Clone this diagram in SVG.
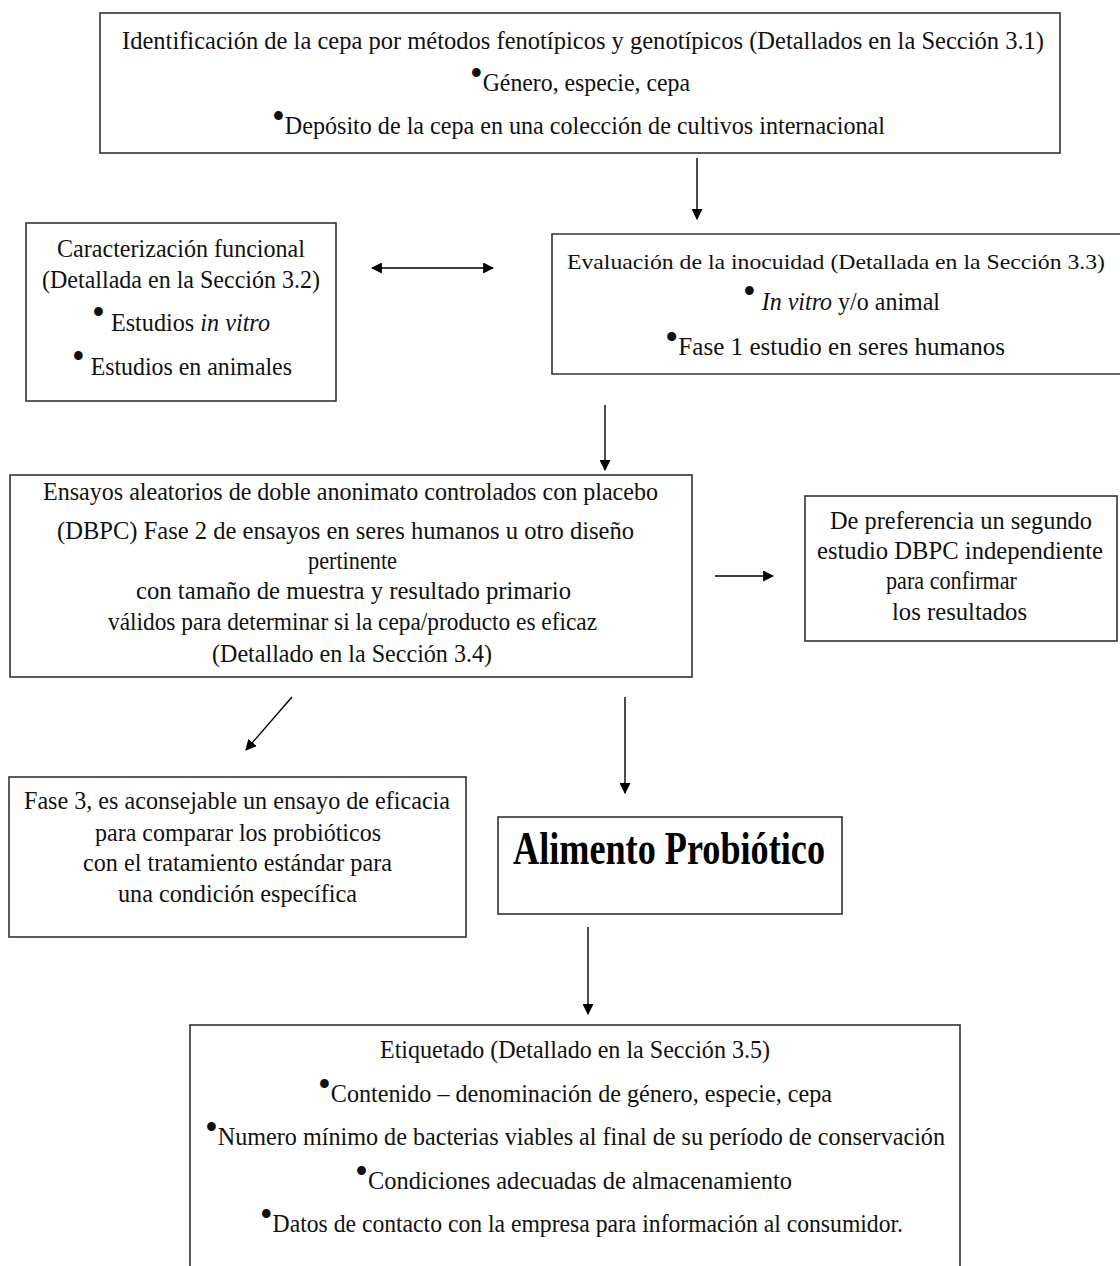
<svg xmlns="http://www.w3.org/2000/svg" width="1120" height="1266" viewBox="0 0 1120 1266">
  <defs>
    <marker id="head" viewBox="0 0 10 10" refX="9" refY="5" markerWidth="11" markerHeight="11" markerUnits="userSpaceOnUse" orient="auto-start-reverse">
      <path d="M0,0 L10,5 L0,10 z" fill="#000"/>
    </marker>
  </defs>
  <style>
    .box { fill: #fff; stroke: #333; stroke-width: 1.6; }
    .t { font-family: "Liberation Serif", "Times New Roman", serif; font-size: 25px; fill: #111; }
    .big { font-family: "Liberation Serif", "Times New Roman", serif; font-size: 47px; font-weight: bold; fill: #000; }
    .dot { font-size: 38px; }
    .link { stroke: #000; stroke-width: 1.4; fill: none; marker-end: url(#head); }
    .both { marker-start: url(#head); }
  </style>
  <rect width="1120" height="1266" fill="#fff"/>

  <!-- connectors -->
  <g id="connectors">
    <line class="link" x1="697" y1="158" x2="697" y2="219"/>
    <line class="link both" x1="372" y1="268" x2="493" y2="268"/>
    <line class="link" x1="605" y1="405" x2="605" y2="470"/>
    <line class="link" x1="715" y1="576" x2="773" y2="576"/>
    <line class="link" x1="292" y1="697" x2="246" y2="750"/>
    <line class="link" x1="625" y1="697" x2="625" y2="793"/>
    <line class="link" x1="588" y1="927" x2="588" y2="1014"/>
  </g>

  <!-- strain identification -->
  <g id="identificacion">
    <rect class="box" x="100" y="13" width="960" height="140"/>
    <text class="t" x="122" y="49" textLength="922" lengthAdjust="spacingAndGlyphs">Identificación de la cepa  por métodos fenotípicos y genotípicos (Detallados en la Sección 3.1)</text>
    <text class="t" x="470" y="91" textLength="220" lengthAdjust="spacingAndGlyphs"><tspan class="dot" dy="-5">•</tspan><tspan dy="5">Género, especie, cepa</tspan></text>
    <text class="t" x="272" y="134" textLength="613" lengthAdjust="spacingAndGlyphs"><tspan class="dot" dy="-5">•</tspan><tspan dy="5">Depósito de la cepa en una colección de cultivos internacional</tspan></text>
  </g>

  <!-- functional characterisation -->
  <g id="caracterizacion">
    <rect class="box" x="26" y="223" width="310" height="178"/>
    <text class="t" x="57" y="257" textLength="248" lengthAdjust="spacingAndGlyphs">Caracterización funcional</text>
    <text class="t" x="42" y="288" textLength="278" lengthAdjust="spacingAndGlyphs">(Detallada en la Sección 3.2)</text>
    <text class="t" x="92" y="331" textLength="178" lengthAdjust="spacingAndGlyphs"><tspan class="dot" dy="-6">•</tspan><tspan dy="6"> Estudios </tspan><tspan font-style="italic">in vitro</tspan></text>
    <text class="t" x="72" y="375" textLength="220" lengthAdjust="spacingAndGlyphs"><tspan class="dot" dy="-6">•</tspan><tspan dy="6"> Estudios en animales</tspan></text>
  </g>

  <!-- safety assessment (box runs off the right side of the sheet) -->
  <g id="inocuidad">
    <path class="box" d="M1120,234 H552 V374 H1120"/>
    <text class="t" x="567" y="269" textLength="538" lengthAdjust="spacingAndGlyphs" style="font-size:21px">Evaluación de la inocuidad (Detallada en la Sección 3.3)</text>
    <text class="t" x="743" y="310" textLength="197" lengthAdjust="spacingAndGlyphs"><tspan class="dot" dy="-6">•</tspan><tspan dy="6"> </tspan><tspan font-style="italic">In vitro</tspan><tspan> y/o animal</tspan></text>
    <text class="t" x="665" y="355" textLength="340" lengthAdjust="spacingAndGlyphs"><tspan class="dot" dy="-5">•</tspan><tspan dy="5">Fase 1 estudio en seres humanos</tspan></text>
  </g>

  <!-- phase 2 DBPC trials -->
  <g id="dbpc">
    <rect class="box" x="10" y="475" width="682" height="202"/>
    <text class="t" x="43" y="500" textLength="615" lengthAdjust="spacingAndGlyphs">Ensayos aleatorios de doble anonimato controlados con placebo</text>
    <text class="t" x="57" y="539" textLength="577" lengthAdjust="spacingAndGlyphs">(DBPC) Fase 2 de ensayos en seres humanos u otro diseño</text>
    <text class="t" x="308" y="569" textLength="89" lengthAdjust="spacingAndGlyphs">pertinente</text>
    <text class="t" x="136" y="599" textLength="435" lengthAdjust="spacingAndGlyphs">con tamaño de muestra  y resultado primario</text>
    <text class="t" x="108" y="630" textLength="489" lengthAdjust="spacingAndGlyphs">válidos para determinar si la cepa/producto es eficaz</text>
    <text class="t" x="212" y="662" textLength="280" lengthAdjust="spacingAndGlyphs">(Detallado en la Sección 3.4)</text>
  </g>

  <!-- second independent study -->
  <g id="segundo-estudio">
    <rect class="box" x="805" y="496" width="312" height="145"/>
    <text class="t" x="830" y="529" textLength="262" lengthAdjust="spacingAndGlyphs">De preferencia un segundo</text>
    <text class="t" x="817" y="559" textLength="286" lengthAdjust="spacingAndGlyphs">estudio DBPC independiente</text>
    <text class="t" x="886" y="589" textLength="131" lengthAdjust="spacingAndGlyphs">para confirmar</text>
    <text class="t" x="892" y="620" textLength="135" lengthAdjust="spacingAndGlyphs">los resultados</text>
  </g>

  <!-- phase 3 -->
  <g id="fase3">
    <rect class="box" x="9" y="777" width="457" height="160"/>
    <text class="t" x="24" y="809" textLength="426" lengthAdjust="spacingAndGlyphs">Fase 3, es aconsejable un ensayo de eficacia</text>
    <text class="t" x="95" y="841" textLength="286" lengthAdjust="spacingAndGlyphs">para comparar los probióticos</text>
    <text class="t" x="83" y="871" textLength="309" lengthAdjust="spacingAndGlyphs">con el tratamiento estándar para</text>
    <text class="t" x="118" y="902" textLength="239" lengthAdjust="spacingAndGlyphs">una condición específica</text>
  </g>

  <!-- probiotic food -->
  <g id="alimento">
    <rect class="box" x="498" y="817" width="344" height="97"/>
    <text class="big" x="513" y="864" textLength="312" lengthAdjust="spacingAndGlyphs">Alimento Probiótico</text>
  </g>

  <!-- labelling -->
  <g id="etiquetado">
    <rect class="box" x="190" y="1025" width="770" height="260"/>
    <text class="t" x="380" y="1058" textLength="390" lengthAdjust="spacingAndGlyphs">Etiquetado (Detallado en la Sección 3.5)</text>
    <text class="t" x="318" y="1102" textLength="514" lengthAdjust="spacingAndGlyphs"><tspan class="dot" dy="-5">•</tspan><tspan dy="5">Contenido – denominación de género, especie, cepa</tspan></text>
    <text class="t" x="205" y="1145" textLength="740" lengthAdjust="spacingAndGlyphs"><tspan class="dot" dy="-5">•</tspan><tspan dy="5">Numero mínimo de bacterias viables al final de su período de conservación</tspan></text>
    <text class="t" x="355" y="1189" textLength="437" lengthAdjust="spacingAndGlyphs"><tspan class="dot" dy="-5">•</tspan><tspan dy="5">Condiciones adecuadas de almacenamiento</tspan></text>
    <text class="t" x="260" y="1232" textLength="643" lengthAdjust="spacingAndGlyphs"><tspan class="dot" dy="-5">•</tspan><tspan dy="5">Datos de contacto con la empresa para información al consumidor.</tspan></text>
  </g>
</svg>
